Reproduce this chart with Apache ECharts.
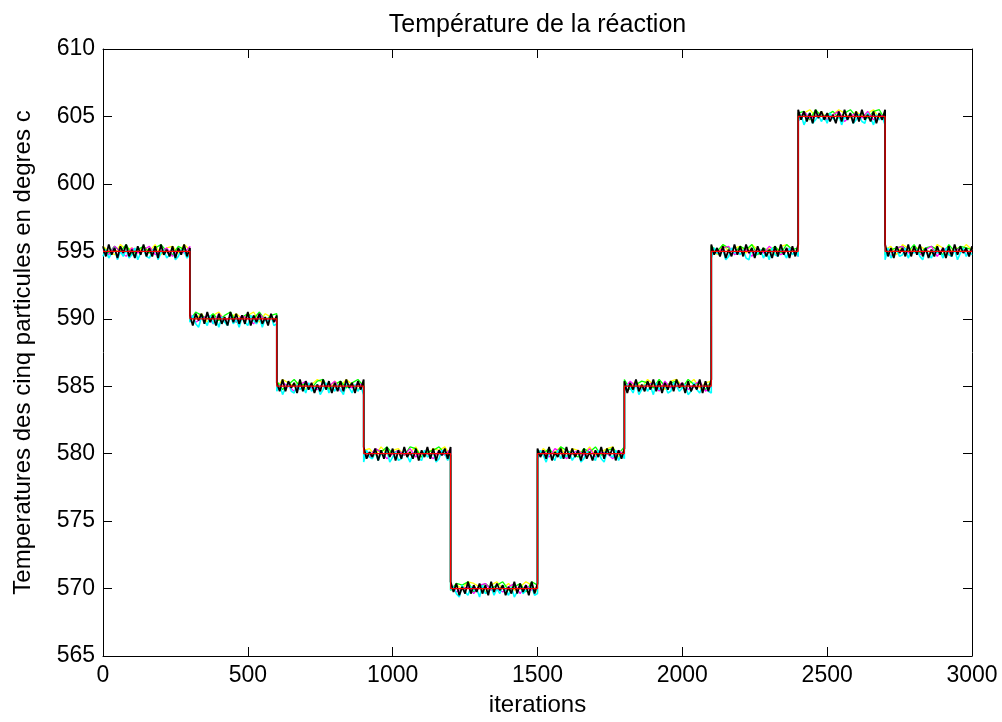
<!DOCTYPE html>
<html><head><meta charset="utf-8">
<script src="https://cdn.jsdelivr.net/npm/echarts@6/dist/echarts.min.js"></script>
<style>html,body{margin:0;padding:0;background:#fff}#c{width:1002px;height:722px}</style>
</head><body><div id="c"></div>
<script>
// Step set-point (°C), one level per 300-iteration block
const blockStarts = [0,300,600,900,1200,1500,1800,2100,2400,2700];
const levels = [595,590,585,580,570,580,585,595,605,595];
const xTicks = [0,500,1000,1500,2000,2500,3000];
const yTicks = [565,570,575,580,585,590,595,600,605,610];

// Particle deviations from the set-point, in eighths of a degree (estimated)
const devBlack = [
3,-3,4,-2,2,-4,3,-1,4,-3,
1,-4,3,-2,4,-3,2,-3,3,-4,
4,-2,1,-3,3,-4,2,-2,4,-3,
2,-4,3,-1,3,-3,4,-2,2,-4,
3,-3,1,-4,4,-2,3,-3,2,-3,
4,-4,2,-2,3,-3,1,-4,3,-2,
2,-3,4,-3,3,-1,2,-4,4,-3,
3,-2,2,-4,1,-3,4,-2,3,-4,
2,-3,3,-3,4,-1,2,-4,3,-2,
4,-3,1,-2,3,-4,2,-3,4,-2,
3,-4,2,-3,4,-2,1,-3,3,-4,
2,-2,4,-3,3,-4,2,-1,3,-3,
4,-2,3,-4,1,-3,4,-3,2,-2,
3,-3,2,-4,4,-2,3,-1,2,-4,
1,-3,4,-3,3,-2,2,-4,4,-3,
3,-2,2,-3,4,-4,1,-2,3,-3,
4,-3,3,-2,2,-4,3,-3,1,-4,
2,-2,4,-3,3,-1,4,-4,2,-3,
3,-4,2,-2,4,-3,1,-3,3,-2,
4,-3,3,-4,2,-2,3,-3,4,-1,
2,-4,3,-3,1,-2,4,-4,3,-3,
4,-2,2,-3,3,-4,1,-3,4,-2,
3,-3,4,-1,2,-4,3,-2,2,-3,
1,-4,3,-3,4,-2,2,-4,3,-3,
4,-2,3,-3,2,-4,4,-1,3,-2,
2,-3,1,-4,3,-3,4,-2,2,-4,
3,-3,4,-2,1,-3,3,-4,2,-2,
4,-3,2,-4,3,-1,2,-3,4,-3,
3,-2,4,-3,2,-4,1,-3,3,-2,
2,-4,3,-3,4,-2,3,-1,2,-3,
3];
const devCyan = [
-3,1,-4,-1,2,-5,0,-3,1,-4,
-2,2,-5,-1,1,-3,-4,0,2,-5,
-1,1,-4,-2,2,-5,-3,1,0,-4,
-2,2,-3,-5,1,-1,-4,2,-3,0,
-5,1,-2,-4,2,-3,0,-5,1,-2,
-4,2,-1,-3,1,-5,0,-2,2,-4,
-3,1,-5,-1,2,-3,-4,1,-2,0,
-4,2,-3,-1,1,-5,-2,2,-4,0,
-3,1,-2,-5,2,-1,-4,1,-3,0,
-5,2,-2,-3,1,-4,0,-1,2,-5,
-2,1,-4,-3,2,-1,-5,0,1,-3,
-4,2,-2,-1,1,-5,-3,2,0,-4,
-1,1,-3,-5,2,-2,-4,1,-1,0,
-5,2,-3,-2,1,-4,0,-3,2,-1,
-4,1,-5,-2,2,-3,-1,0,1,-4,
-3,2,-1,-5,1,-2,-4,2,-3,0,
-2,1,-4,-1,2,-5,-3,1,0,-2,
-4,2,-3,-5,1,-1,-2,2,-4,0,
-3,1,-1,-4,2,-5,-2,1,-3,0,
-5,2,-2,-1,1,-4,-3,2,0,-3,
-1,1,-5,-3,2,-2,-4,0,1,-3,
-4,2,-1,-2,1,-5,-3,2,-1,0,
-2,1,-4,-5,2,-3,-1,1,-4,0,
-5,2,-2,-3,1,-1,-4,2,-2,0,
-3,1,-5,-1,2,-4,-2,1,-3,0,
-4,2,-1,-3,1,-5,0,-2,2,-4,
-2,1,-3,-4,2,-1,-5,1,-2,0,
-5,2,-4,-1,1,-3,-2,2,-4,0,
-1,1,-3,-5,2,-2,-4,1,-1,0,
-4,2,-2,-3,1,-5,-1,2,-3,0,
-2];
const devGreen = [
2,-1,3,0,4,-2,1,3,-1,2,
4,0,-2,3,1,-1,4,2,0,3,
-1,2,4,-2,1,3,0,4,-1,2,
3,-2,1,4,0,2,-1,3,4,-2,
1,3,-1,2,4,0,-2,3,1,4,
0,2,-1,4,3,-2,1,2,4,0,
-1,3,2,4,-2,1,3,0,2,4,
-1,1,3,-2,4,2,0,3,-1,4,
2,0,-2,3,1,4,-1,2,3,0,
4,-2,1,3,2,-1,4,0,2,3,
-1,4,1,2,-2,3,0,4,2,-1,
3,1,4,-2,2,0,3,-1,4,1,
2,3,-2,4,0,1,3,-1,2,4,
0,2,-1,3,4,-2,1,2,3,0,
4,-1,2,3,1,-2,4,0,3,2,
1];
const devYellow = [
3,0,-2,4,1,2,-1,3,0,4,
-2,2,3,-1,4,1,0,3,-2,2,
4,-1,1,3,0,2,4,-2,3,1,
-1,4,2,0,3,-2,1,4,2,-1,
3,0,4,1,-2,2,3,-1,4,0,
2,3,-1,1,4,-2,0,3,2,4,
-1,2,0,4,3,1,-2,2,4,0,
3,-1,1,4,2,-2,3,0,1,4,
-2,3,2,0,4,-1,1,3,4,-2,
2,0,3,-1,4,1,2,-2,3,4,
0,1,4,-1,2,3,-2,4,0,2,
3,-1,4,1,0,2,-2,3,4,1,
-1,2,4,0,3,-2,1,4,2,-1,
3,0,2,4,-1,1,3,-2,4,2,
0,3,1,-1,4,2,-2,3,0,4,
1];
const devMagenta = [
1,-2,3,0,-3,2,-1,1,3,-2,
0,2,-3,1,-1,3,-2,0,2,-3,
3,-1,1,-2,2,0,-3,3,-1,1,
-2,2,0,-3,1,3,-1,-2,2,0,
3,-3,1,-1,2,0,-2,3,1,-3,
0,2,-1,3,-2,1,0,-3,2,-1,
3,-2,0,1,-3,2,3,-1,0,-2,
1,3,-3,2,-1,0,2,-2,3,1,
-3,0,2,-1,3,-2,1,0,-3,2,
-1,3,0,-2,1,2,-3,3,-1,0,
2,-2,1,3,-3,0,-1,2,3,-2,
0,1,-3,2,-1,3,0,-2,1,2,
-3,3,-1,0,2,-2,1,3,-3,0,
2,-1,3,-2,0,1,-3,2,3,-1,
0,-2,1,3,-3,2,-1,0,2,-2,
1];

const X_MAX = 3000, BLOCK = 300, DEV_UNIT = 8;
function blockIndex(x){ return Math.min(Math.floor(x / BLOCK), levels.length - 1); }
function particle(dev){
  const step = X_MAX / (dev.length - 1);
  const out = [];
  dev.forEach((d, i) => {
    const x = i * step, b = blockIndex(x);
    // at a block start, the particle jumps vertically from the previous level
    if (b > 0 && blockStarts[b] === x) out.push([x, levels[b - 1] + d / DEV_UNIT]);
    out.push([x, levels[b] + d / DEV_UNIT]);
  });
  return out;
}
const setpoint = blockStarts.map((x, i) => [x, levels[i]]).concat([[X_MAX, levels[levels.length - 1]]]);

const FONT = 'Liberation Sans, Arial, Helvetica, sans-serif';
const chart = echarts.init(document.getElementById('c'), null, {renderer: 'canvas'});
const lineSeries = (name, data, color, width) => ({
  name, type: 'line', data, showSymbol: false, symbol: 'none', animation: false,
  xAxisIndex: 0, yAxisIndex: 0, lineStyle: {color, width: width || 1}, silent: true
});
chart.setOption({
  backgroundColor: '#ffffff',
  animation: false,
  grid: {left: 103, right: 30, top: 49, bottom: 63, containLabel: false},
  xAxis: [{
    type: 'value', min: 0, max: 3000, interval: 500, position: 'bottom',
    name: 'iterations', nameLocation: 'middle', nameGap: 37,
    nameTextStyle: {fontFamily: FONT, fontSize: 24, color: '#000'},
    axisLine: {show: true, onZero: false, lineStyle: {color: '#000', width: 1}},
    axisTick: {show: true, inside: true, length: 9, lineStyle: {color: '#000'}},
    axisLabel: {fontFamily: FONT, fontSize: 23, color: '#000', margin: 8,
      formatter: v => xTicks.includes(v) ? String(v) : ''},
    splitLine: {show: false}
  }, {
    type: 'value', min: 0, max: 3000, interval: 500, position: 'top',
    name: 'Température de la réaction', nameLocation: 'middle', nameGap: 11,
    nameTextStyle: {fontFamily: FONT, fontSize: 25, color: '#000', verticalAlign: 'bottom'},
    axisLine: {show: true, onZero: false, lineStyle: {color: '#000', width: 1}},
    axisTick: {show: true, inside: true, length: 9, lineStyle: {color: '#000'}},
    axisLabel: {show: false}, splitLine: {show: false}
  }],
  yAxis: [{
    type: 'value', min: 565, max: 610, interval: 5, position: 'left',
    name: 'Temperatures des cinq particules en degres c', nameLocation: 'middle', nameGap: 68,
    nameTextStyle: {fontFamily: FONT, fontSize: 24, color: '#000'},
    axisLine: {show: true, onZero: false, lineStyle: {color: '#000', width: 1}},
    axisTick: {show: true, inside: true, length: 9, lineStyle: {color: '#000'}},
    axisLabel: {fontFamily: FONT, fontSize: 23, color: '#000', margin: 8,
      formatter: v => yTicks.includes(v) ? String(v) : ''},
    splitLine: {show: false}
  }, {
    type: 'value', min: 565, max: 610, interval: 5, position: 'right',
    axisLine: {show: true, onZero: false, lineStyle: {color: '#000', width: 1}},
    axisTick: {show: true, inside: true, length: 9, lineStyle: {color: '#000'}},
    axisLabel: {show: false}, splitLine: {show: false}
  }],
  series: [
    lineSeries('particule 1', particle(devYellow), '#ffff00', 1.3),
    lineSeries('particule 2', particle(devGreen), '#00ff00', 1.3),
    lineSeries('particule 3', particle(devMagenta), '#ff00ff', 1.2),
    lineSeries('particule 4', particle(devCyan), '#00ffff', 1.6),
    lineSeries('particule 5', particle(devBlack), '#000000', 1.8),
    Object.assign(lineSeries('consigne', setpoint, '#ff0000', 1.2), {step: 'end'})
  ]
});
</script></body></html>
